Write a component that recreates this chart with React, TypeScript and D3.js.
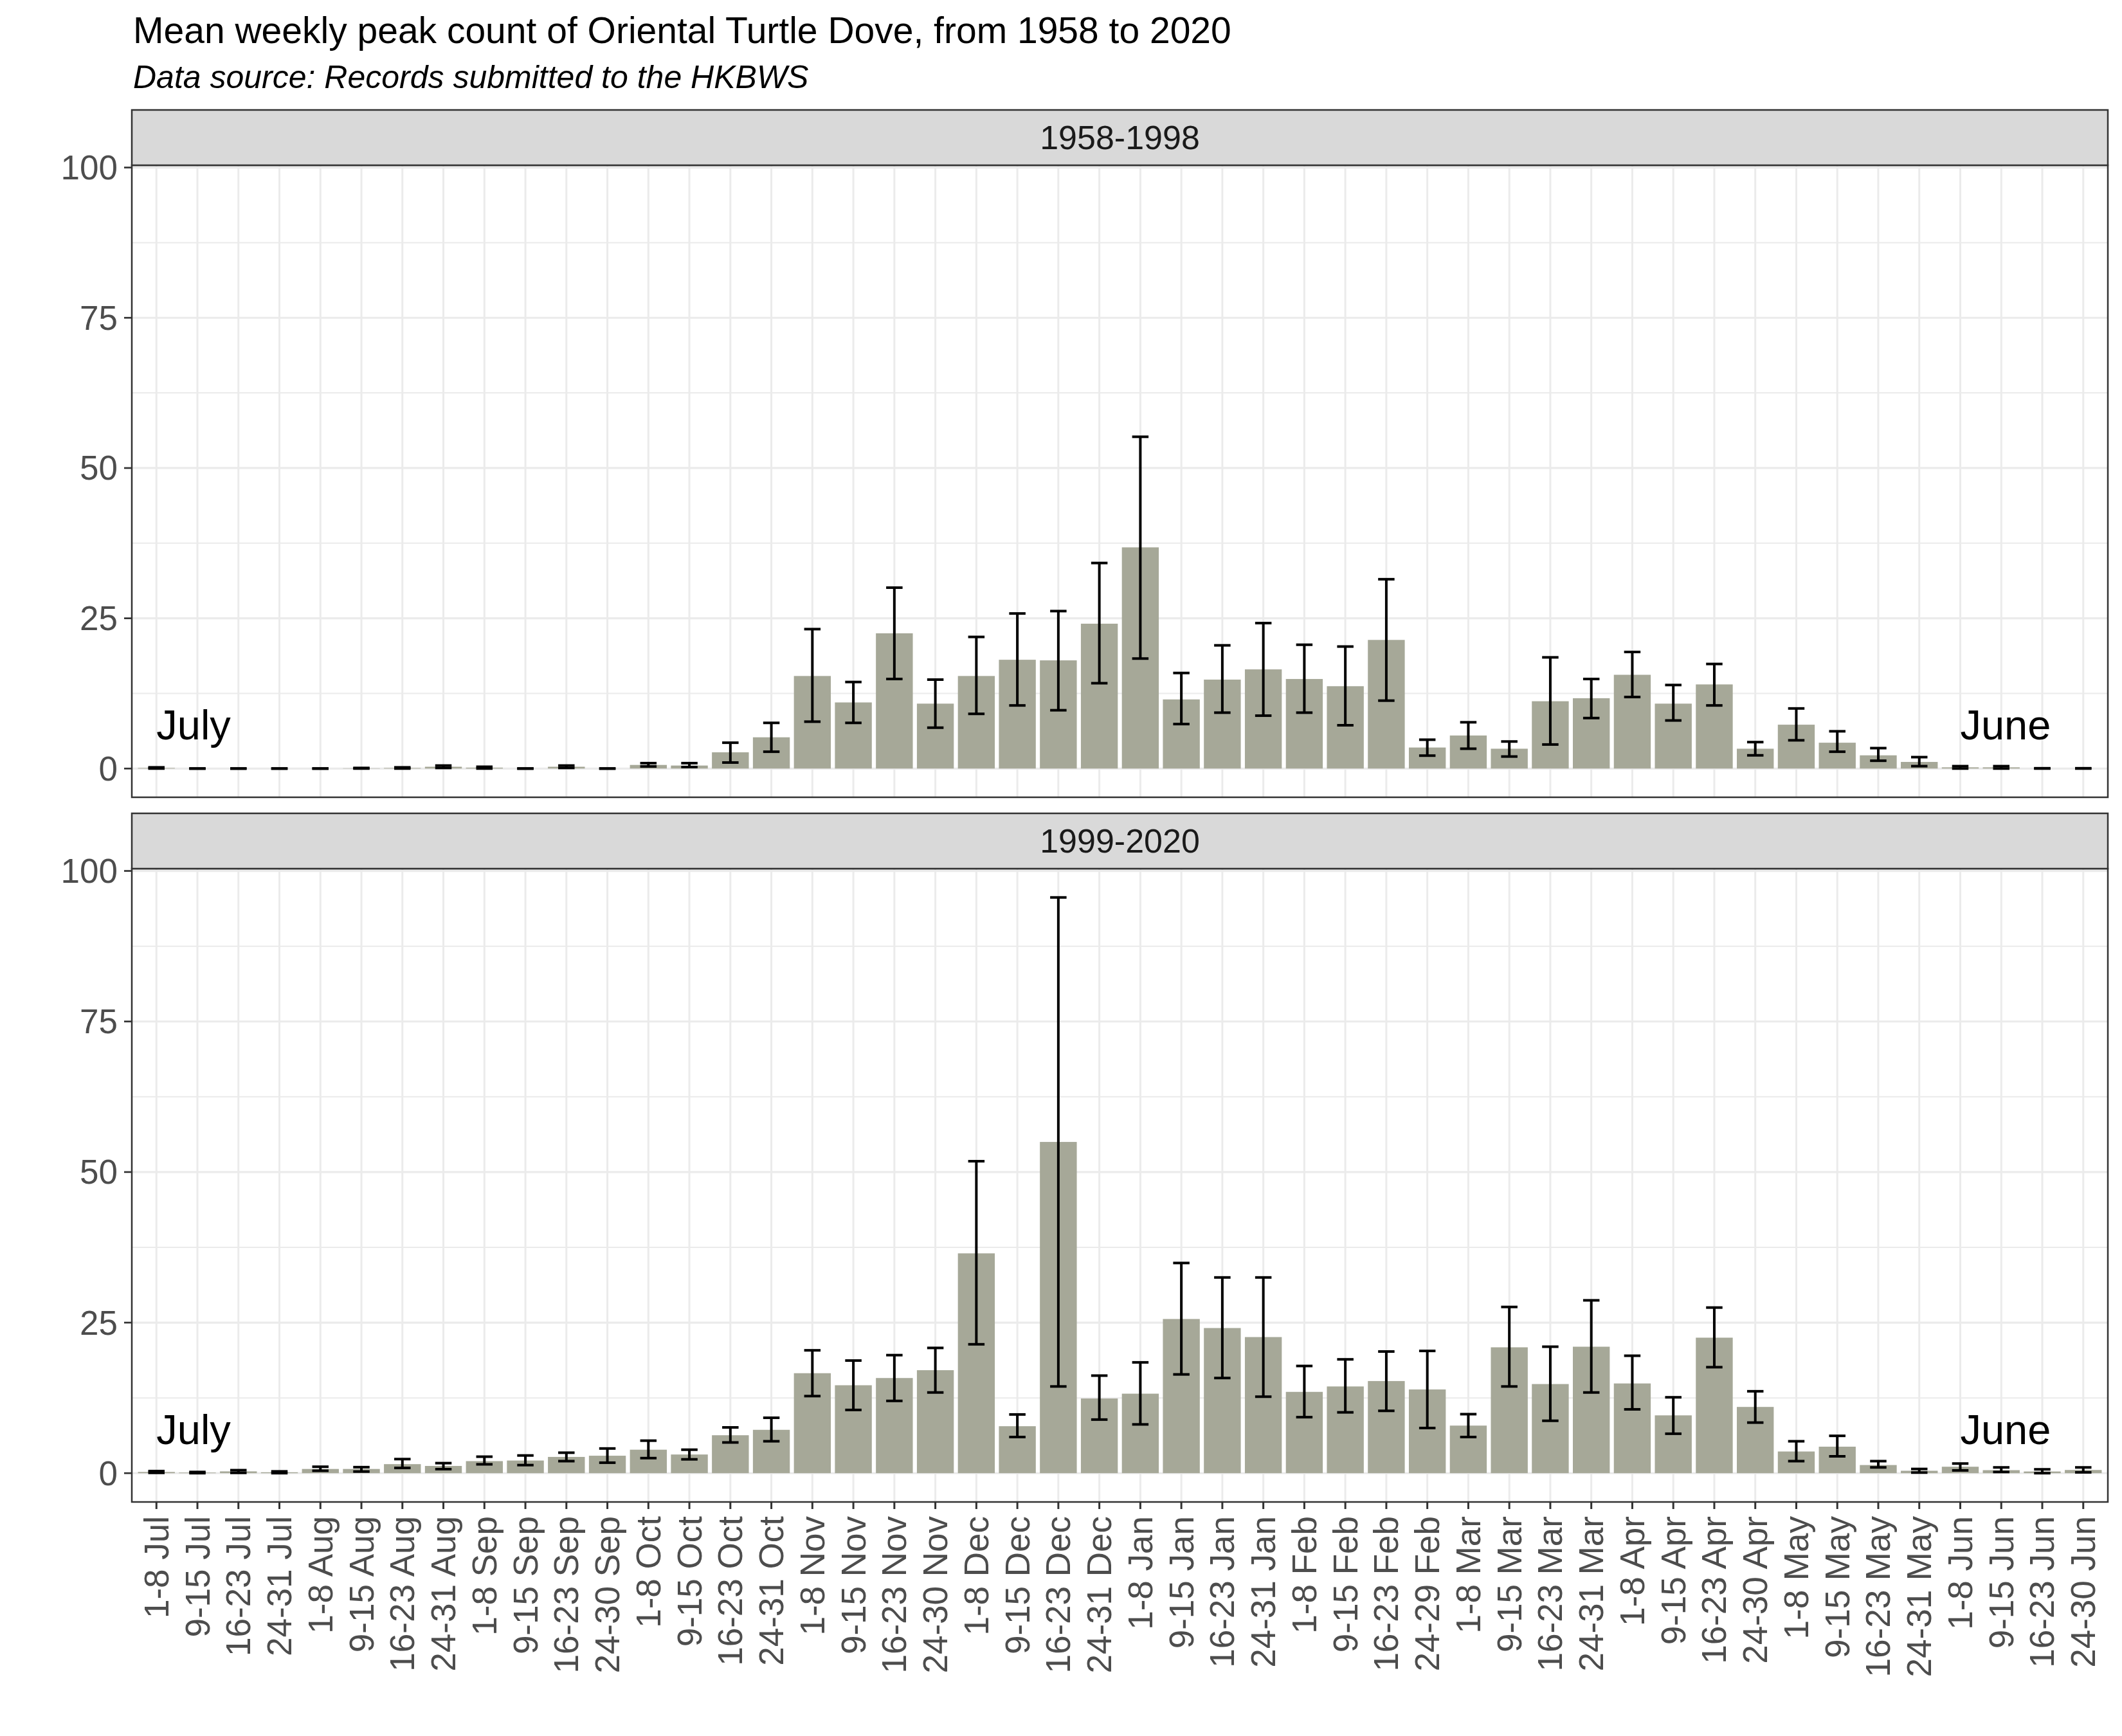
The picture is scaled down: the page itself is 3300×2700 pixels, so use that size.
import * as d3 from 'd3';
import React from 'react';

// week labels, July to June
const weeks = [
  '1-8 Jul', '9-15 Jul', '16-23 Jul', '24-31 Jul',
  '1-8 Aug', '9-15 Aug', '16-23 Aug', '24-31 Aug',
  '1-8 Sep', '9-15 Sep', '16-23 Sep', '24-30 Sep',
  '1-8 Oct', '9-15 Oct', '16-23 Oct', '24-31 Oct',
  '1-8 Nov', '9-15 Nov', '16-23 Nov', '24-30 Nov',
  '1-8 Dec', '9-15 Dec', '16-23 Dec', '24-31 Dec',
  '1-8 Jan', '9-15 Jan', '16-23 Jan', '24-31 Jan',
  '1-8 Feb', '9-15 Feb', '16-23 Feb', '24-29 Feb',
  '1-8 Mar', '9-15 Mar', '16-23 Mar', '24-31 Mar',
  '1-8 Apr', '9-15 Apr', '16-23 Apr', '24-30 Apr',
  '1-8 May', '9-15 May', '16-23 May', '24-31 May',
  '1-8 Jun', '9-15 Jun', '16-23 Jun', '24-30 Jun',
];

// 1958-1998
const mean1 = [
  0.1, 0, 0, 0, 0, 0.05, 0.1, 0.3, 0.15, 0, 0.3, 0,
  0.6, 0.5, 2.7, 5.2, 15.4, 11.0, 22.5, 10.8, 15.4, 18.1, 18.0, 24.1,
  36.8, 11.5, 14.8, 16.5, 14.9, 13.7, 21.4, 3.5, 5.5, 3.3, 11.2, 11.7,
  15.6, 10.8, 14.0, 3.3, 7.3, 4.3, 2.2, 1.1, 0.2, 0.2, 0, 0,
];
const lo1 = [
  0, 0, 0, 0, 0, 0, 0, 0.1, 0, 0, 0.1, 0,
  0.35, 0.25, 1.0, 2.8, 7.8, 7.6, 14.9, 6.8, 9.1, 10.5, 9.7, 14.2,
  18.3, 7.4, 9.3, 8.8, 9.3, 7.2, 11.3, 2.15, 3.3, 2.0, 4.0, 8.4,
  11.9, 8.0, 10.5, 2.2, 4.7, 2.8, 1.3, 0.4, 0, 0, 0, 0,
];
const hi1 = [
  0.2, 0, 0, 0, 0, 0.1, 0.2, 0.5, 0.3, 0, 0.5, 0,
  0.9, 0.9, 4.3, 7.6, 23.2, 14.4, 30.1, 14.8, 21.9, 25.8, 26.2, 34.2,
  55.2, 15.9, 20.5, 24.2, 20.6, 20.3, 31.5, 4.8, 7.7, 4.5, 18.5, 14.9,
  19.4, 13.9, 17.4, 4.4, 10.0, 6.2, 3.4, 1.9, 0.4, 0.4, 0.05, 0.05,
];

// 1999-2020
const mean2 = [
  0.2, 0.1, 0.3, 0.15, 0.7, 0.7, 1.5, 1.2, 2.0, 2.1, 2.7, 2.9,
  3.9, 3.1, 6.3, 7.2, 16.6, 14.6, 15.8, 17.1, 36.5, 7.8, 55.0, 12.4,
  13.2, 25.6, 24.1, 22.6, 13.5, 14.4, 15.3, 13.9, 7.9, 20.9, 14.8, 21.0,
  14.9, 9.6, 22.5, 11.0, 3.6, 4.4, 1.35, 0.4, 1.07, 0.5, 0.28, 0.53,
];
const lo2 = [
  0.05, 0, 0.05, 0, 0.4, 0.27, 0.87, 0.67, 1.47, 1.34, 2.0, 1.74,
  2.5, 2.3, 5.1, 5.3, 12.8, 10.5, 12.0, 13.4, 21.4, 6.0, 14.4, 8.9,
  8.1, 16.4, 15.8, 12.7, 9.3, 10.1, 10.35, 7.5, 6.0, 14.4, 8.7, 13.4,
  10.6, 6.55, 17.6, 8.4, 2.0, 2.8, 0.96, 0.1, 0.46, 0.2, 0, 0.14,
];
const hi2 = [
  0.35, 0.2, 0.5, 0.3, 1.07, 1.0, 2.34, 1.67, 2.74, 2.94, 3.4, 4.1,
  5.4, 3.9, 7.6, 9.2, 20.4, 18.7, 19.6, 20.8, 51.8, 9.75, 95.6, 16.2,
  18.4, 34.9, 32.5, 32.5, 17.8, 18.9, 20.2, 20.3, 9.8, 27.6, 21.0, 28.7,
  19.5, 12.6, 27.5, 13.6, 5.3, 6.2, 2.0, 0.7, 1.6, 0.96, 0.64, 0.96,
];

const periods = ['1958-1998', '1999-2020'];
const yTicks = [0, 25, 50, 75, 100];
const yMinor = [12.5, 37.5, 62.5, 87.5];
const monthNotes = [
  { label: 'July', week: '1-8 Jul' },
  { label: 'June', week: '1-8 Jun' },
];

const FONT = '"Liberation Sans", Arial, sans-serif';
const BAR = '#a6a898';
const GRID = '#ebebeb';
const DARK = '#333333';

const width = 3300;
const height = 2700;
const left = 205;
const right = 3278;
const stripH = 86;
const panels = [
  { top: 171, bottom: 1240 },
  { top: 1265, bottom: 2336 },
];

const App = () => {
  const series = [
    { mean: mean1, lo: lo1, hi: hi1 },
    { mean: mean2, lo: lo2, hi: hi2 },
  ];

  const x = d3.scalePoint<string>().domain(weeks).range([left, right]).padding(0.6);
  const step = x.step();
  const barW = step * 0.9;
  const capW = step * 0.4;

  // shared y scale, ggplot-style 5% expansion
  const maxHi = d3.max([...hi1, ...hi2]) as number;
  const pad = maxHi * 0.05;

  return (
    <>
      <style>{'body{margin:0;background:#fff}'}</style>
      <svg width={width} height={height} style={{ display: 'block', background: '#fff' }} fontFamily={FONT}>
        <text x={207} y={67} fontSize={57} fill="#000">
          Mean weekly peak count of Oriental Turtle Dove, from 1958 to 2020
        </text>
        <text x={207} y={137} fontSize={50} fontStyle="italic" fill="#000">
          Data source: Records submitted to the HKBWS
        </text>

        {panels.map((p, pi) => {
          const pTop = p.top + stripH;
          const y = d3.scaleLinear().domain([-pad, maxHi + pad]).range([p.bottom, pTop]);
          const s = series[pi];
          return (
            <g key={pi}>
              <rect x={left} y={pTop} width={right - left} height={p.bottom - pTop} fill="#fff" />
              {yMinor.map((t) => (
                <line key={'m' + t} x1={left} x2={right} y1={y(t)} y2={y(t)} stroke={GRID} strokeWidth={2} />
              ))}
              {yTicks.map((t) => (
                <line key={'g' + t} x1={left} x2={right} y1={y(t)} y2={y(t)} stroke={GRID} strokeWidth={3.2} />
              ))}
              {weeks.map((w) => (
                <line key={'v' + w} x1={x(w)} x2={x(w)} y1={pTop} y2={p.bottom} stroke={GRID} strokeWidth={3} />
              ))}

              {weeks.map((w, i) => (
                <rect
                  key={'b' + w}
                  x={(x(w) as number) - barW / 2}
                  y={y(s.mean[i])}
                  width={barW}
                  height={Math.max(0, y(0) - y(s.mean[i]))}
                  fill={BAR}
                />
              ))}

              {weeks.map((w, i) => {
                const cx = x(w) as number;
                return (
                  <g key={'e' + w} stroke="#000" strokeWidth={4}>
                    <line x1={cx} x2={cx} y1={y(s.lo[i])} y2={y(s.hi[i])} />
                    <line x1={cx - capW / 2} x2={cx + capW / 2} y1={y(s.lo[i])} y2={y(s.lo[i])} />
                    <line x1={cx - capW / 2} x2={cx + capW / 2} y1={y(s.hi[i])} y2={y(s.hi[i])} />
                  </g>
                );
              })}

              {monthNotes.map((m) => (
                <text key={m.label} x={x(m.week)} y={y(4.8)} fontSize={65} fill="#000">
                  {m.label}
                </text>
              ))}

              <rect x={left} y={pTop} width={right - left} height={p.bottom - pTop} fill="none" stroke={DARK} strokeWidth={2.5} />

              {/* strip */}
              <rect x={left} y={p.top} width={right - left} height={stripH} fill="#d9d9d9" stroke={DARK} strokeWidth={2.5} />
              <text x={(left + right) / 2} y={p.top + stripH / 2} fontSize={52} fill="#1a1a1a" textAnchor="middle" dominantBaseline="central">
                {periods[pi]}
              </text>

              {/* y axis */}
              {yTicks.map((t) => (
                <g key={'yt' + t}>
                  <line x1={left - 12} x2={left} y1={y(t)} y2={y(t)} stroke={DARK} strokeWidth={2.7} />
                  <text x={left - 22} y={y(t)} fontSize={53} fill="#4d4d4d" textAnchor="end" dominantBaseline="central">
                    {t}
                  </text>
                </g>
              ))}
            </g>
          );
        })}

        {/* x axis on bottom panel */}
        {weeks.map((w) => {
          const cx = x(w) as number;
          const b = panels[1].bottom;
          return (
            <g key={'xt' + w}>
              <line x1={cx} x2={cx} y1={b} y2={b + 11} stroke={DARK} strokeWidth={3} />
              <text
                transform={`translate(${cx},${b + 22}) rotate(-90)`}
                fontSize={53}
                fill="#4d4d4d"
                textAnchor="end"
                dominantBaseline="central"
              >
                {w}
              </text>
            </g>
          );
        })}
      </svg>
    </>
  );
};

export default App;
